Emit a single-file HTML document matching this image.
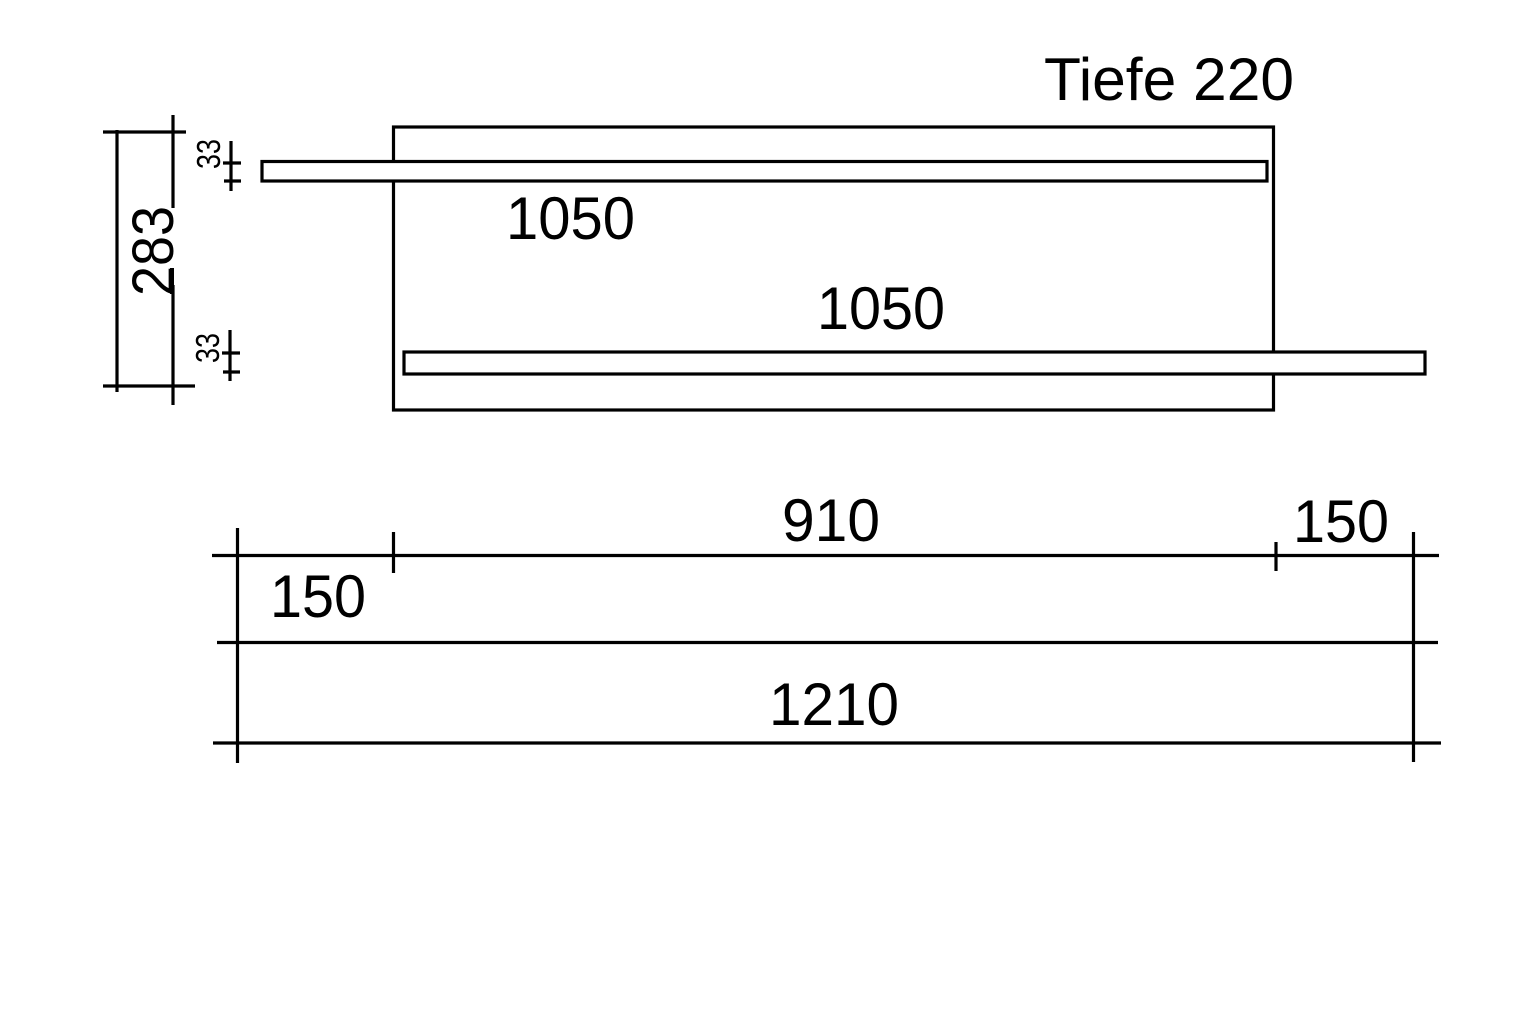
<!DOCTYPE html>
<html><head><meta charset="utf-8"><style>
html,body{margin:0;padding:0;background:#fff}
svg{display:block}
text{font-family:"Liberation Sans",sans-serif;fill:#000}
</style></head><body>
<svg width="1536" height="1024" viewBox="0 0 1536 1024" xmlns="http://www.w3.org/2000/svg">
<rect width="1536" height="1024" fill="#fff"/>
<g stroke="#000" stroke-width="3.2" fill="none">
<rect x="393.5" y="127" width="880" height="283"/>
<rect x="262" y="161.500" width="1005" height="19.500" fill="#fff"/>
<rect x="404" y="352" width="1021" height="22" fill="#fff"/>
<path d="M103 132H186M117 130V392M173 115V208M173 285V405M103 386H195"/>
<path d="M231 141V191M223 163H241M224 181H241M230 330V381M222 353H240M223 372H240"/>
<path d="M212 555.500H1439M237.500 528V640M393.500 532V573M1276 542V571M1413.500 532V640"/>
<path d="M217 642.500H1438M213 743H1441M237.500 640V763M1413.500 640V762"/>
<path d="M172 268V294" stroke-width="4"/>
</g>
<text x="1044" y="100" font-size="60" textLength="250" lengthAdjust="spacingAndGlyphs">Tiefe 220</text>
<text x="506" y="239" font-size="60" textLength="129" lengthAdjust="spacingAndGlyphs">1050</text>
<text x="817" y="329" font-size="60" textLength="128" lengthAdjust="spacingAndGlyphs">1050</text>
<text x="782" y="541" font-size="60" textLength="98" lengthAdjust="spacingAndGlyphs">910</text>
<text x="1293" y="542" font-size="60" textLength="96" lengthAdjust="spacingAndGlyphs">150</text>
<text x="270" y="617" font-size="60" textLength="96" lengthAdjust="spacingAndGlyphs">150</text>
<text x="769" y="725" font-size="60" textLength="130" lengthAdjust="spacingAndGlyphs">1210</text>
<text transform="translate(173 296) rotate(-90)" font-size="58" textLength="90" lengthAdjust="spacingAndGlyphs">283</text>
<text transform="translate(220 169) rotate(-90)" font-size="33" textLength="30" lengthAdjust="spacingAndGlyphs">33</text>
<text transform="translate(219 363) rotate(-90)" font-size="33" textLength="30" lengthAdjust="spacingAndGlyphs">33</text>
</svg>
</body></html>
